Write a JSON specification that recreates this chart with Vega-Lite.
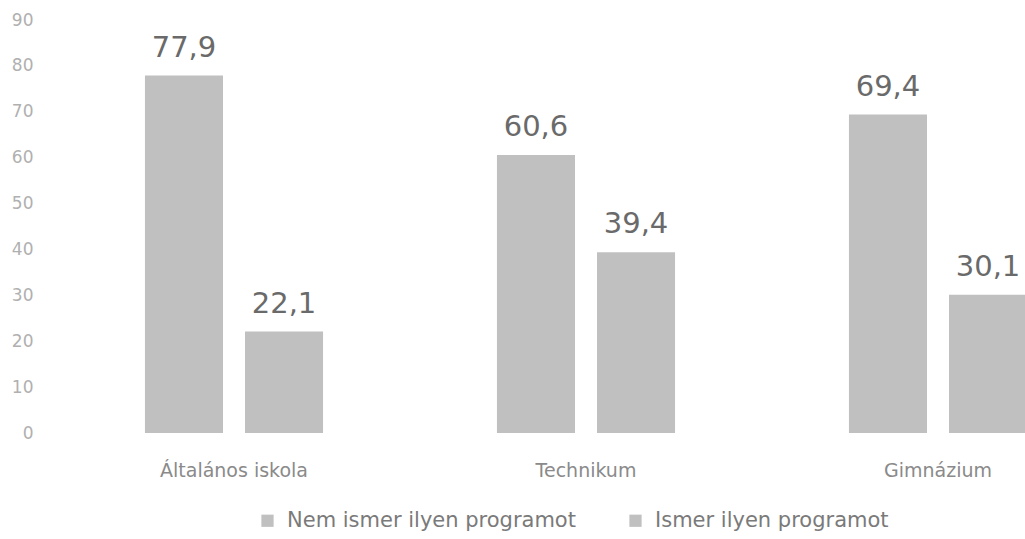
{
  "$schema": "https://vega.github.io/schema/vega-lite/v6.json",
  "autosize": "none",
  "width": 1056,
  "height": 413,
  "padding": {"left": 58, "top": 20, "right": 0, "bottom": 106},
  "background": "white",
  "config": {
    "view": {"stroke": null},
    "font": "DejaVu Sans",
    "locale": {"number": {"decimal": ",", "thousands": " ", "grouping": [3], "currency": ["", " Ft"]}}
  },
  "data": {
    "values": [
      {"iskola": "Általános iskola", "valasz": "Nem ismer ilyen programot", "ertek": 77.9},
      {"iskola": "Általános iskola", "valasz": "Ismer ilyen programot", "ertek": 22.1},
      {"iskola": "Technikum", "valasz": "Nem ismer ilyen programot", "ertek": 60.6},
      {"iskola": "Technikum", "valasz": "Ismer ilyen programot", "ertek": 39.4},
      {"iskola": "Gimnázium", "valasz": "Nem ismer ilyen programot", "ertek": 69.4},
      {"iskola": "Gimnázium", "valasz": "Ismer ilyen programot", "ertek": 30.1}
    ]
  },
  "encoding": {
    "x": {
      "field": "iskola", "type": "nominal",
      "sort": ["Általános iskola", "Technikum", "Gimnázium"],
      "scale": {"paddingInner": 0.494, "paddingOuter": 0.247},
      "axis": {"title": null, "labelAngle": 0, "ticks": false, "domain": false, "labelPadding": 28, "labelFontSize": 19, "labelColor": "#8a8a8a", "labelFont": "DejaVu Sans"}
    },
    "xOffset": {
      "field": "valasz", "type": "nominal",
      "sort": ["Nem ismer ilyen programot", "Ismer ilyen programot"],
      "scale": {"paddingInner": 0.22, "paddingOuter": 0}
    },
    "y": {
      "field": "ertek", "type": "quantitative",
      "scale": {"domain": [0, 90], "nice": false},
      "axis": {"title": null, "values": [0,10,20,30,40,50,60,70,80,90], "grid": false, "ticks": false, "domain": false, "labelPadding": 25, "labelFontSize": 17, "labelColor": "#b0b0b0", "labelFont": "DejaVu Sans"}
    }
  },
  "layer": [
    {
      "mark": {"type": "bar"},
      "encoding": {
        "color": {
          "field": "valasz", "type": "nominal",
          "sort": ["Nem ismer ilyen programot", "Ismer ilyen programot"],
          "scale": {"domain": ["Nem ismer ilyen programot", "Ismer ilyen programot"], "range": ["#c0c0c0", "#c0c0c0"]},
          "legend": {
            "title": null, "orient": "none", "direction": "horizontal",
            "legendX": 199, "legendY": 490,
            "symbolType": "square", "symbolSize": 150, "symbolStrokeWidth": 0,
            "labelFontSize": 21, "labelColor": "#7a7a7a", "labelFont": "DejaVu Sans",
            "labelOffset": 9, "columnPadding": 49, "labelLimit": 400
          }
        }
      }
    },
    {
      "mark": {"type": "text", "baseline": "alphabetic", "dy": -19, "fontSize": 29, "color": "#6a6a6a", "font": "DejaVu Sans"},
      "encoding": {
        "text": {"field": "ertek", "type": "quantitative", "format": ".1f"}
      }
    }
  ]
}
